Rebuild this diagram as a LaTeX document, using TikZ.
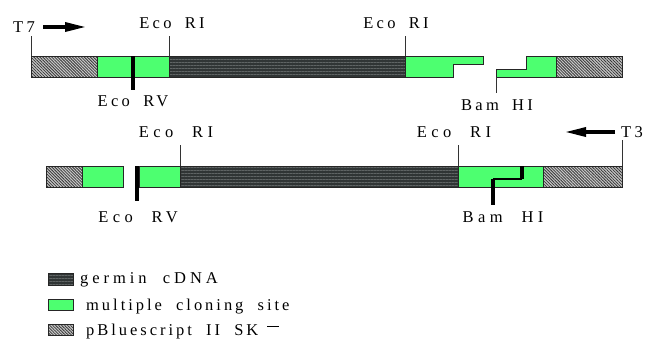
\documentclass[tikz,border=0pt]{standalone}
\usepackage{fontspec}
\setmainfont{Liberation Serif}
\newfontfamily\upperlbl{Liberation Serif}[LetterSpace=20,WordSpace=1.8]
\newfontfamily\lowerlbl{Liberation Serif}[LetterSpace=27,WordSpace=2.2]
\newfontfamily\keylbl{Liberation Serif}[LetterSpace=24,WordSpace=2]
\newfontfamily\keylblb{Liberation Serif}[LetterSpace=18,WordSpace=2]
\usetikzlibrary{arrows.meta,patterns.meta}
\definecolor{mcs}{RGB}{77,255,112}
\definecolor{cdna}{RGB}{48,53,53}
\definecolor{cdnaline}{RGB}{95,100,100}
\definecolor{vec}{RGB}{200,200,200}
\definecolor{vecline}{RGB}{55,55,55}
\tikzset{
  x=1pt, y=-1pt,
  seg/.style={draw=black!85, line width=1pt},
  vector/.style={seg, preaction={fill=vec},
    pattern={Lines[angle=-45,distance=2.1pt,line width=0.8pt]}, pattern color=vecline},
  insert/.style={seg, preaction={fill=cdna},
    pattern={Lines[angle=0,distance=3pt,line width=0.7pt]}, pattern color=cdnaline},
  cloning/.style={seg, fill=mcs},
  site/.style={draw=black!80, line width=0.9pt},
  bluntsite/.style={draw=black, line width=3.5pt},
  lbl/.style={font=\fontsize{16.5}{18}\upperlbl, inner sep=0pt},
  lbllow/.style={font=\fontsize{16.5}{18}\lowerlbl, inner sep=0pt},
  keytext/.style={font=\fontsize{16.5}{18}\keylbl, inner sep=0pt, anchor=base west},
  keytextb/.style={keytext, font=\fontsize{16.5}{18}\keylblb},
  primer/.style={draw=black, line width=3.2pt, -{Triangle[length=21pt,width=9pt]}},
}
\begin{document}
\begin{tikzpicture}
\useasboundingbox (0,0) rectangle (648,338);

% ---------- upper construct ----------
\path[vector]  (31,56) rectangle (97,77);
\path[cloning] (97,56) rectangle (169,77);
\path[insert]  (169,56) rectangle (405,77);
\path[cloning] (405,56) -- (483,56) -- (483,64) -- (453,64) -- (453,77) -- (405,77) -- cycle;
\path[cloning] (496,69) -- (526,69) -- (526,56) -- (556,56) -- (556,77) -- (496,77) -- cycle;
\path[vector]  (556,56) rectangle (622,77);

\coordinate (t7top) at (31,36);   \coordinate (t7bar) at (31,56);
\coordinate (ri1top) at (169,36); \coordinate (ri1bar) at (169,56);
\coordinate (ri2top) at (405,36); \coordinate (ri2bar) at (405,56);
\coordinate (rv1a) at (133,56);   \coordinate (rv1b) at (133,90);
\coordinate (bh1a) at (496,77);   \coordinate (bh1b) at (496,93);

\draw[site] (t7top) -- (t7bar);
\draw[site] (ri1top) -- (ri1bar);
\draw[site] (ri2top) -- (ri2bar);
\draw[site] (bh1a) -- (bh1b);
\draw[bluntsite] (rv1a) -- (rv1b);

\node[lbl] (t7) at (24,27) {T7};
\coordinate (t7s) at (43,27); \coordinate (t7e) at (86,27);
\draw[primer] (t7s) -- (t7e);
\node[lbl] (ri1) at (172,23) {Eco RI};
\node[lbl] (ri2) at (396,23) {Eco RI};
\node[lbl] (rv1) at (133,101) {Eco RV};
\node[lbl] (bh1) at (497,105) {Bam HI};

% ---------- lower construct ----------
\path[vector]  (46,166) rectangle (82,187);
\path[cloning] (82,166) rectangle (123,187);
\path[cloning] (139,166) rectangle (180,187);
\path[insert]  (180,166) rectangle (458,187);
\path[cloning] (458,166) rectangle (543,187);
\path[vector]  (543,166) rectangle (622,187);

\coordinate (rv2a) at (137,166);  \coordinate (rv2b) at (137,201);
\coordinate (ri3top) at (180,145); \coordinate (ri3bar) at (180,166);
\coordinate (ri4top) at (458,145); \coordinate (ri4bar) at (458,166);
\coordinate (t3top) at (622,140); \coordinate (t3bar) at (622,166);
\coordinate (bh2a) at (522,166); \coordinate (bh2b) at (522,179);
\coordinate (bh2c) at (493,179); \coordinate (bh2d) at (493,205);

\draw[bluntsite] (rv2a) -- (rv2b);
\draw[site] (ri3top) -- (ri3bar);
\draw[site] (ri4top) -- (ri4bar);
\draw[site] (t3top) -- (t3bar);
\draw[bluntsite] (bh2a) -- (bh2b);
\draw[draw=black, line width=1.6pt] (bh2b) -- (bh2c);
\draw[bluntsite] (bh2c) -- (bh2d);

\node[lbllow] (ri3) at (176,132) {Eco RI};
\node[lbllow] (ri4) at (454,132) {Eco RI};
\node[lbl] (t3) at (632,132) {T3};
\coordinate (t3s) at (615,132); \coordinate (t3e) at (565,132);
\draw[primer] (t3s) -- (t3e);
\node[lbllow] (rv2) at (138,217) {Eco RV};
\node[lbllow] (bh2) at (503,217) {Bam HI};

% ---------- key ----------
\path[insert]  (48,273) rectangle (73,285);
\path[cloning] (48,299) rectangle (73,310);
\path[vector]  (48,324) rectangle (73,335);
\node[keytext]  (k1) at (80,283) {germin cDNA};
\node[keytextb] (k2) at (86,310) {multiple cloning site};
\node[keytextb] (k3) at (86,335) {pBluescript II SK\hspace{9pt}\raisebox{8pt}{\rule{12pt}{1pt}}};
\end{tikzpicture}
\end{document}
